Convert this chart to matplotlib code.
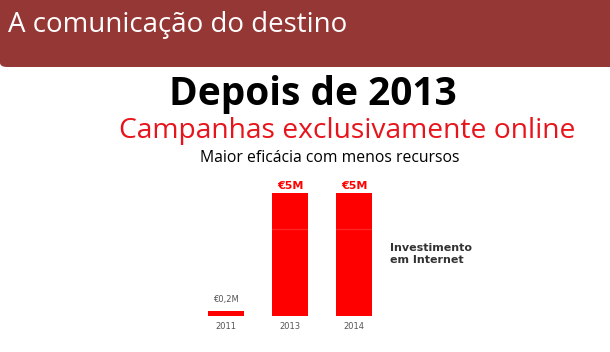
import matplotlib.pyplot as plt
from matplotlib.patches import FancyBboxPatch, Rectangle

# data
years = ['2011', '2013', '2014']
investment = [0.2, 5.0, 5.0]  # milhões de euros
value_labels = ['€0,2M', '€5M', '€5M']

W, H = 610, 352
fig = plt.figure(figsize=(W / 100, H / 100), dpi=100)

# header band
band = '#953735'
fig.patches.append(FancyBboxPatch((0.0, 1 - 67 / H), 1.0, 67 / H, boxstyle='round,pad=0,rounding_size=0.012',
                                  transform=fig.transFigure, facecolor=band, edgecolor='none', zorder=0))
fig.patches.append(Rectangle((0.02, 1 - 67 / H), 0.98, 67 / H, transform=fig.transFigure,
                             facecolor=band, edgecolor='none', zorder=0))
fig.patches.append(Rectangle((0.0, 1 - 30 / H), 1.0, 30 / H, transform=fig.transFigure,
                             facecolor=band, edgecolor='none', zorder=0))
fig.text(8 / W, 1 - 25 / H, 'A comunicação do destino', color='white', fontsize=20,
         family='Open Sans', va='center', ha='left')

fig.text(313 / W, 1 - 94 / H, 'Depois de 2013', color='black', fontsize=28, fontweight='bold',
         family='Open Sans', va='center', ha='center')
fig.text(347 / W, 1 - 131 / H, 'Campanhas exclusivamente online', color='#e8141b', fontsize=20.3,
         family='Open Sans', va='center', ha='center')
fig.text(330 / W, 1 - 158 / H, 'Maior eficácia com menos recursos', color='black', fontsize=11.3,
         family='Open Sans', va='center', ha='center')

# bar chart
ax = fig.add_axes([194 / W, 36 / H, 192 / W, 137.8 / H])
x = range(len(years))
ax.bar(x, investment, width=0.5625, color='#ff0000', zorder=2)
ax.axhline(3.55, color='white', alpha=0.15, lw=1, zorder=3)
ax.set_xlim(-0.5, 2.5)
ax.set_ylim(0, 5.6)
for i, (v, lab) in enumerate(zip(investment, value_labels)):
    if v < 1:
        ax.text(i, v + 0.28, lab, ha='center', va='bottom', fontsize=6, color='#555555')
    else:
        ax.text(i, v + 0.08, lab, ha='center', va='bottom', fontsize=8, fontweight='bold', color='#ff0000')
ax.set_xticks(list(x))
ax.set_xticklabels(years, fontsize=6, color='#555555')
ax.tick_params(length=0, pad=4)
ax.set_yticks([])
for s in ax.spines.values():
    s.set_visible(False)

fig.text(390 / W, 1 - 254 / H, 'Investimento\nem Internet', color='#333333', fontsize=8, fontweight='bold',
         va='center', ha='left', linespacing=1.3)

fig.savefig('out.png', dpi=100)
